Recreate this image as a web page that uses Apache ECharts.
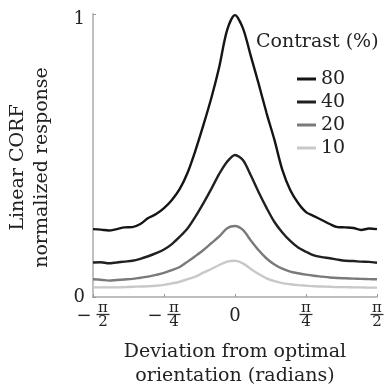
<!DOCTYPE html>
<html>
<head>
<meta charset="utf-8">
<script src="https://cdn.jsdelivr.net/npm/echarts@6/dist/echarts.min.js"></script>
<style>html,body{margin:0;padding:0;background:#fff}#c{width:391px;height:388px}</style>
</head>
<body>
<div id="c"></div>
<script>
// Deviation from optimal orientation, in degrees (-90 = -π/2, 90 = π/2)
var deviationDeg = [-90,-85,-80,-75,-70,-65,-60,-55,-50,-45,-40,-35,-30,-25,-20,-15,-10,-5,0,5,10,15,20,25,30,35,40,45,50,55,60,65,70,75,80,85,90];
var contrastNames = ['80','40','20','10'];
var resp80 = [0.240,0.238,0.235,0.240,0.246,0.247,0.258,0.279,0.293,0.314,0.343,0.382,0.440,0.519,0.608,0.703,0.813,0.943,0.996,0.950,0.852,0.753,0.650,0.555,0.449,0.378,0.332,0.300,0.286,0.272,0.258,0.247,0.246,0.244,0.237,0.242,0.240];
var resp40 = [0.122,0.123,0.119,0.122,0.125,0.128,0.135,0.144,0.155,0.168,0.187,0.213,0.243,0.285,0.332,0.382,0.435,0.478,0.502,0.484,0.430,0.370,0.315,0.265,0.228,0.198,0.175,0.160,0.147,0.141,0.137,0.132,0.128,0.127,0.125,0.124,0.121];
var resp20 = [0.0625,0.061,0.058,0.060,0.062,0.064,0.068,0.072,0.078,0.085,0.095,0.106,0.125,0.145,0.166,0.190,0.214,0.243,0.251,0.237,0.200,0.165,0.136,0.115,0.100,0.090,0.084,0.079,0.075,0.072,0.069,0.067,0.066,0.065,0.064,0.063,0.0625];
var resp10 = [0.034,0.034,0.034,0.034,0.035,0.036,0.037,0.038,0.040,0.043,0.048,0.054,0.063,0.072,0.086,0.099,0.113,0.125,0.128,0.119,0.099,0.081,0.066,0.056,0.049,0.045,0.042,0.040,0.038,0.037,0.036,0.035,0.035,0.034,0.034,0.033,0.033];
var xTickValues = [-90,-45,0,45,90];
var xTickLabels = ['−π/2','−π/4','0','π/4','π/2'];
var yTickLabels = {0:'0',1:'1'};

var FONT = 'DejaVu Serif';
var colors = ['#151515','#202020','#7a7a7a','#c8c8c8'];
var allResp = [resp80, resp40, resp20, resp10];

function fracRich(lbl){
  if (lbl.indexOf('/') < 0) return '{z|' + lbl + '}';
  var neg = lbl.charAt(0) === '−';
  var body = neg ? lbl.slice(1) : lbl;
  var p = body.split('/');
  if (neg) return '{mp| }{n|' + p[0] + '}\n{m|−}{bar| }\n{mp| }{d|' + p[1] + '}';
  return '{n|' + p[0] + '}\n{bar| }\n{d|' + p[1] + '}';
}

var series = contrastNames.map(function(nm, i){
  return {
    name: nm, type: 'line', showSymbol: false, smooth: 0.3,
    data: deviationDeg.map(function(d, k){ return [d, allResp[i][k]]; }),
    lineStyle: {color: colors[i], width: 2.4},
    itemStyle: {color: colors[i]},
    z: 10 - i
  };
});

var chart = echarts.init(document.getElementById('c'), null, {renderer:'canvas'});
chart.setOption({
  animation: false,
  backgroundColor: '#fff',
  textStyle: {fontFamily: FONT},
  grid: {left: 93, right: 14, top: 14, bottom: 91, containLabel: false, outerBoundsMode: 'none'},
  title: {text: 'Contrast (%)', left: 256, top: 33, padding: 0,
    textStyle: {fontFamily: FONT, fontSize: 19, fontWeight: 'normal', color: '#222'}},
  legend: {
    orient: 'vertical', left: 297, top: 69, itemWidth: 19, itemHeight: 3, itemGap: 3, padding: 0,
    icon: 'rect',
    textStyle: {fontFamily: FONT, fontSize: 19, color: '#222', lineHeight: 20},
    data: contrastNames
  },
  xAxis: {
    type: 'value', min: -90, max: 90, interval: 45,
    name: 'Deviation from optimal\norientation (radians)', nameLocation: 'middle', nameGap: 43,
    nameTextStyle: {fontFamily: FONT, fontSize: 19, color: '#222', lineHeight: 24},
    axisLine: {lineStyle: {color: '#a8a8a8', width: 1.5}},
    axisTick: {inside: true, length: 3, lineStyle: {color: '#999'}},
    splitLine: {show: false},
    axisLabel: {
      margin: 7, color: '#222',
      formatter: function(v){ var i = xTickValues.indexOf(v); return i < 0 ? '' : fracRich(xTickLabels[i]); },
      rich: {
        z: {fontFamily: FONT, fontSize: 18, lineHeight: 24, color: '#222', verticalAlign: 'middle'},
        n: {fontFamily: FONT, fontSize: 15, lineHeight: 8, width: 13, align: 'center', color: '#222', verticalAlign: 'middle'},
        d: {fontFamily: FONT, fontSize: 15, lineHeight: 11, width: 13, align: 'center', color: '#222', verticalAlign: 'middle'},
        bar: {fontSize: 2, lineHeight: 5, width: 13, height: 1.3, backgroundColor: '#333', verticalAlign: 'middle'},
        m: {fontFamily: FONT, fontSize: 18, lineHeight: 5, width: 20, align: 'left', color: '#222', verticalAlign: 'middle', padding: [3,0,0,0]},
        mp: {fontSize: 2, lineHeight: 5, width: 20, verticalAlign: 'middle'}
      }
    }
  },
  yAxis: {
    type: 'value', min: 0, max: 1, interval: 1,
    name: 'Linear CORF\nnormalized response', nameLocation: 'middle', nameGap: 39, nameRotate: 90,
    nameTextStyle: {fontFamily: FONT, fontSize: 19, color: '#222', lineHeight: 24, padding: [0,24,0,0]},
    axisLine: {show: true, onZero: false, lineStyle: {color: '#c0c0c0', width: 2}},
    axisTick: {show: true, inside: true, length: 3, lineStyle: {color: '#999'}},
    splitLine: {show: false},
    axisLabel: {
      margin: 8, color: '#222',
      formatter: function(v){ return v === 1 ? '{a|' + yTickLabels[1] + '}' : '{b|' + yTickLabels[0] + '}'; },
      rich: {
        a: {fontFamily: FONT, fontSize: 18, color: '#222', padding: [10,0,0,0]},
        b: {fontFamily: FONT, fontSize: 18, color: '#222'}
      }
    }
  },
  series: series
});
</script>
</body>
</html>
